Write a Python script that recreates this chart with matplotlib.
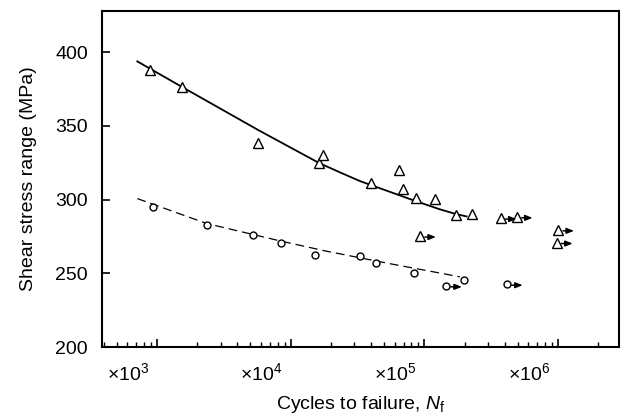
import numpy as np
import matplotlib
matplotlib.use("Agg")
import matplotlib.pyplot as plt
from matplotlib.ticker import LogLocator, NullFormatter, FixedLocator
from matplotlib.transforms import ScaledTranslation, offset_copy

plt.rcParams["font.family"] = ["Liberation Sans", "DejaVu Sans"]
plt.rcParams["mathtext.fontset"] = "custom"
plt.rcParams["mathtext.rm"] = "Liberation Sans"
plt.rcParams["mathtext.it"] = "Liberation Sans:italic"
plt.rcParams["font.size"] = 14

########################################################################################
# Données

# triangles (failures)
tri_N = [890, 1530, 5730, 16300, 17500, 40000, 64900, 69200, 86500, 121000, 174000, 229000]
tri_S = [388.3, 376.2, 338.6, 324.9, 330.5, 311.5, 320.3, 307.3, 301.3, 300.4, 289.6, 290.5]
# triangles runouts
tri_run_N = [92700, 372000, 490000, 1000000, 977000]
tri_run_S = [275.3, 287.5, 288.3, 279.5, 270.9]

# circles (failures)
circ_N = [938, 2360, 5200, 8420, 15200, 33000, 43200, 83600, 198000]
circ_S = [295.1, 282.8, 276.2, 270.9, 262.5, 262.0, 257.0, 249.9, 245.7]
# circle runouts
circ_run_N = [145000, 413000]
circ_run_S = [241.5, 242.6]

# courbes tracées sur la figure
fit_tri_N = [713, 1531, 5728, 16290, 23390, 32960, 82600, 130900, 174600, 207000]
fit_tri_S = [393.8, 376.6, 347.2, 324.9, 318.5, 312.6, 299.6, 293.4, 290.1, 288.6]
fit_circ_N = [713, 2355, 8320, 18580, 55500, 134000, 184500]
fit_circ_S = [300.7, 283.8, 272.0, 265.0, 256.5, 250.0, 247.6]

major_ticks = [1e3, 1e4, 1e5, 1e6]
major_labels = [r"$\times10^{3}$", r"$\times10^{4}$", r"$\times10^{5}$", r"$\times10^{6}$"]
y_ticks = [200, 250, 300, 350, 400]

########################################################################################

fig = plt.figure(figsize=(6.27, 4.19), dpi=100)
ax = fig.add_axes([102 / 627, 1 - 347 / 419, (619 - 102) / 627, (347 - 11) / 419])

ax.plot(fit_tri_N, fit_tri_S, color="black", lw=1.3, zorder=2)
ax.plot(fit_circ_N, fit_circ_S, color="black", lw=0.9, dashes=(7, 4), zorder=2)

tri_style = dict(marker="^", ms=7, mfc="white", mec="black", mew=1.0, ls="none", zorder=3)
circ_style = dict(marker="o", ms=5, mfc="white", mec="black", mew=1.0, ls="none", zorder=3)

ax.plot(tri_N, tri_S, **tri_style)
ax.plot(tri_run_N, tri_run_S, **tri_style)
ax.plot(circ_N, circ_S, **circ_style)
ax.plot(circ_run_N, circ_run_S, **circ_style)

# flèches des essais non rompus
tip = offset_copy(ax.transData, fig, x=16, y=-1, units="dots")
tail = offset_copy(ax.transData, fig, x=5, y=-1, units="dots")
for n, s in zip(tri_run_N + circ_run_N, tri_run_S + circ_run_S):
    ax.annotate(
        "",
        xy=(n, s), xycoords=tip,
        xytext=(n, s), textcoords=tail,
        arrowprops=dict(arrowstyle="-|>,head_length=0.3,head_width=0.12",
                        color="black", lw=1.1, shrinkA=0, shrinkB=0),
        zorder=3,
    )

ax.set_xscale("log")
ax.set_xlim(388, 2.86e6)
ax.set_ylim(200, 428)

ax.xaxis.set_major_locator(FixedLocator(major_ticks))
ax.set_xticklabels(major_labels)
ax.xaxis.set_minor_locator(LogLocator(base=10, subs=np.arange(2, 10)))
ax.xaxis.set_minor_formatter(NullFormatter())
ax.set_yticks(y_ticks)

ax.tick_params(axis="both", which="major", direction="in", length=6, width=1.2, pad=10, labelsize=14)
ax.tick_params(axis="x", which="minor", direction="in", length=3.5, width=1.0)
ax.tick_params(axis="x", which="major", pad=11)
ax.tick_params(top=False, right=False)

shift = ScaledTranslation(-29 / 100, 0, fig.dpi_scale_trans)
for lab in ax.get_xticklabels():
    lab.set_transform(lab.get_transform() + shift)

for sp in ax.spines.values():
    sp.set_linewidth(1.5)

ax.set_ylabel("Shear stress range (MPa)", fontsize=14, labelpad=13)
ax.set_xlabel(r"Cycles to failure, $N_\mathrm{f}$", fontsize=14, labelpad=7)

fig.savefig("out.png", dpi=100)
